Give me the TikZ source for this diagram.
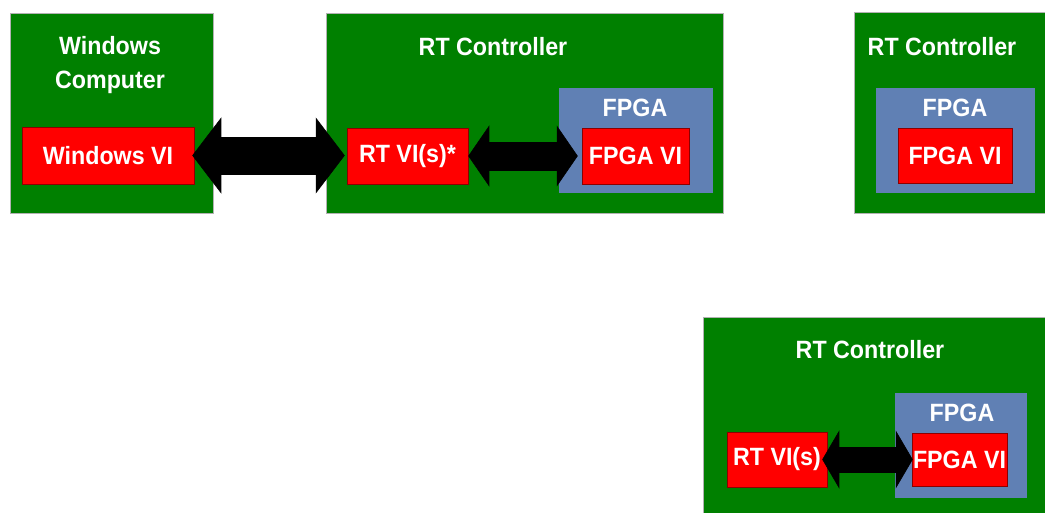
\documentclass[tikz,border=0pt]{standalone}
\usepackage{fontspec}
\setmainfont{Liberation Sans}[FakeStretch=0.93]
\usetikzlibrary{arrows.meta}
\definecolor{boxgreen}{RGB}{0,128,0}
\definecolor{fpgablue}{RGB}{96,128,180}
\definecolor{vired}{RGB}{255,0,0}
\begin{document}
\begin{tikzpicture}[x=1pt,y=-1pt,
  ctrl/.style={rectangle, fill=boxgreen, draw=gray!60, line width=0.8pt, inner sep=0pt},
  fpga/.style={rectangle, fill=fpgablue, inner sep=0pt},
  vi/.style={rectangle, fill=vired, draw=red!55!black, line width=0.5pt, inner sep=0pt,
    text=white, font=\fontsize{25}{28}\selectfont\bfseries},
  lbl/.style={text=white, font=\fontsize{25}{34}\selectfont\bfseries, inner sep=0pt, align=center},
  link/.style n args={3}{draw=black, line width=#1,
    {Triangle[length=#2,width=#3,line width=0.6pt]}-{Triangle[length=#2,width=#3,line width=0.6pt]}}]
\useasboundingbox (0,0) rectangle (1045,512);
\clip (0,0) rectangle (1045,512);
\fill[white] (0,0) rectangle (1045,512);

% boxes
\node[ctrl, minimum width=203pt, minimum height=200pt] (win) at (111.5,113) {};
\node[ctrl, minimum width=397pt, minimum height=200pt] (rt) at (524.5,113) {};
\node[ctrl, minimum width=206pt, minimum height=201pt] (rtb) at (957,112.5) {};
\node[ctrl, minimum width=357pt, minimum height=213pt] (rtc) at (881.5,423.5) {};

\node[fpga, minimum width=154pt, minimum height=105pt] (fp) at (636,140.5) {};
\node[fpga, minimum width=159pt, minimum height=105pt] (fpb) at (955.5,140.5) {};
\node[fpga, minimum width=132pt, minimum height=105pt] (fpc) at (961,445.5) {};

% titles
\node[lbl] (wint) at (110,65) {Windows\\Computer};
\node[lbl] (rtt) at (493,47) {RT Controller};
\node[lbl] (rtbt) at (942,47) {RT Controller};
\node[lbl] (rtct) at (870,350) {RT Controller};
\node[lbl] (fpt) at (635,108) {FPGA};
\node[lbl] (fpbt) at (955,108) {FPGA};
\node[lbl] (fpct) at (962,413) {FPGA};

% VIs
\node[vi, minimum width=172pt, minimum height=57pt] (wvi) at (108,155.5) {Windows VI};
\node[vi, minimum width=121pt, minimum height=56pt] (rtvi) at (407.5,156) {RT VI(s)*};
\node[vi, minimum width=107pt, minimum height=56pt] (fvi) at (635.5,156) {FPGA VI};
\node[vi, minimum width=114pt, minimum height=55pt] (fvib) at (955,155.5) {FPGA VI};
\node[vi, minimum width=100pt, minimum height=55pt] (rtvic) at (777,459.5) {RT VI(s)};
\node[vi, minimum width=95pt, minimum height=53pt] (fvic) at (959.5,459.5) {FPGA VI};

% connectors
\draw[link={38pt}{29pt}{76pt}, shorten <=-2pt, shorten >=2pt] (wvi.east) -- (wvi.east -| rtvi.west);
\draw[link={29pt}{21pt}{61pt}, shorten >=4pt] (rtvi.east) -- (rtvi.east -| fvi.west);
\draw[link={26pt}{17pt}{58pt}, shorten <=-5pt, shorten >=-1pt] (rtvic.east) -- (rtvic.east -| fvic.west);
\end{tikzpicture}
\end{document}
